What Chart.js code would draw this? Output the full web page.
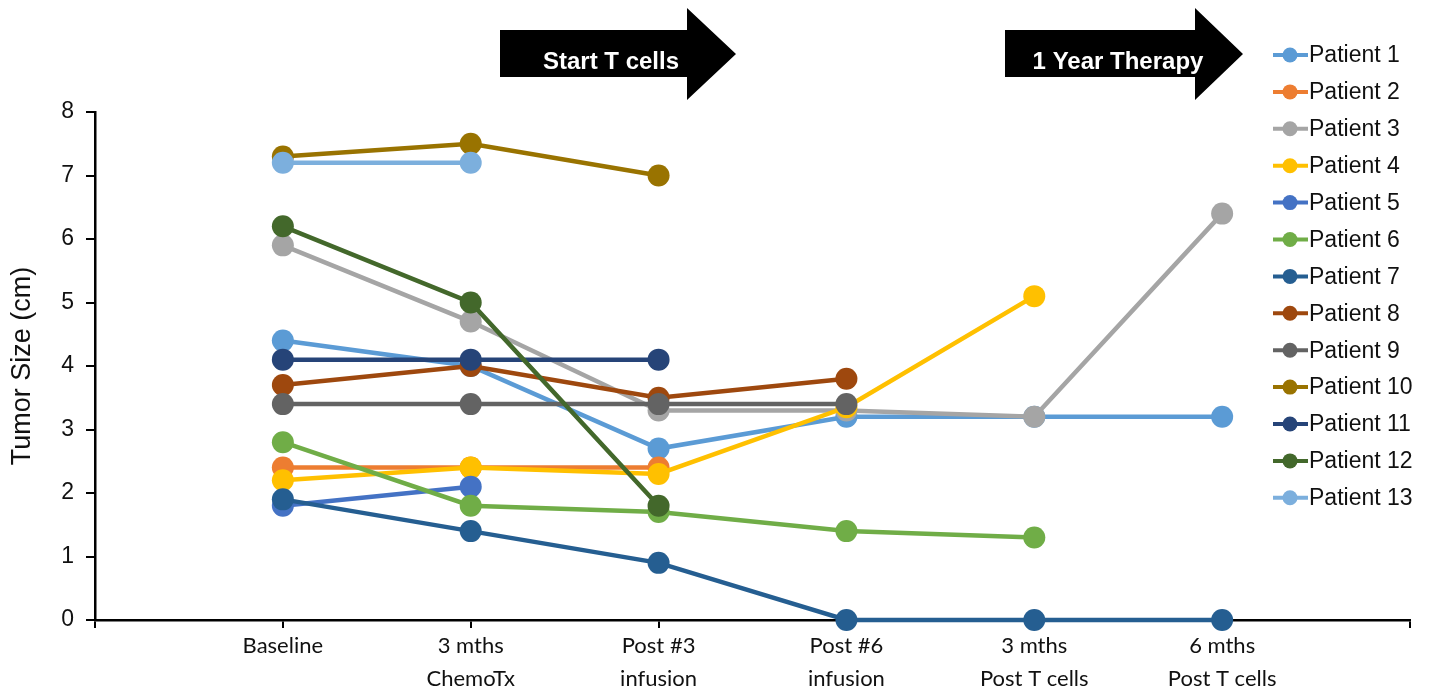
<!DOCTYPE html>
<html>
<head>
<meta charset="utf-8">
<script src="https://cdn.jsdelivr.net/npm/chart.js@4.4.1/dist/chart.umd.min.js"></script>
<style>
  html, body { margin: 0; padding: 0; background: #fff; }
  #wrap { width: 1442px; height: 695px; position: relative; }
</style>
</head>
<body>
<div id="wrap"><canvas id="tumorChart"></canvas></div>
<script>
// time points on the x axis (multi-line labels)
const timePoints = [
  ["Baseline"],
  ["3 mths", "ChemoTx"],
  ["Post #3", "infusion"],
  ["Post #6", "infusion"],
  ["3 mths", "Post T cells"],
  ["6 mths", "Post T cells"],
];

const patientNames = [
  "Patient 1", "Patient 2", "Patient 3", "Patient 4", "Patient 5",
  "Patient 6", "Patient 7", "Patient 8", "Patient 9", "Patient 10",
  "Patient 11", "Patient 12", "Patient 13",
];

const patientColors = [
  "#5B9BD5", "#ED7D31", "#A5A5A5", "#FFC000", "#4472C4",
  "#70AD47", "#255E91", "#9E480E", "#636363", "#997300",
  "#264478", "#43682B", "#7CAFDD",
];

// tumor size (cm) per time point
const patient1 = [4.4, 4.0, 2.7, 3.2, 3.2, 3.2];
const patient2 = [2.4, 2.4, 2.4];
const patient3 = [5.9, 4.7, 3.3, 3.3, 3.2, 6.4];
const patient4 = [2.2, 2.4, 2.3, 3.35, 5.1];
const patient5 = [1.8, 2.1];
const patient6 = [2.8, 1.8, 1.7, 1.4, 1.3];
const patient7 = [1.9, 1.4, 0.9, 0, 0, 0];
const patient8 = [3.7, 4.0, 3.5, 3.8];
const patient9 = [3.4, 3.4, 3.4, 3.4];
const patient10 = [7.3, 7.5, 7.0];
const patient11 = [4.1, 4.1, 4.1];
const patient12 = [6.2, 5.0, 1.8];
const patient13 = [7.2, 7.2];

const patientValues = [
  patient1, patient2, patient3, patient4, patient5, patient6, patient7,
  patient8, patient9, patient10, patient11, patient12, patient13,
];

const arrowLabels = ["Start T cells", "1 Year Therapy"];

// arrows above the plot + legend drawn like the Excel one (line with marker)
const overlayPlugin = {
  id: "overlay",
  afterDraw(chart) {
    const ctx = chart.ctx;
    ctx.save();

    const arrows = [
      { x0: 500, head: 687, tip: 736, text: arrowLabels[0], cx: 611 },
      { x0: 1005, head: 1195, tip: 1243, text: arrowLabels[1], cx: 1118 },
    ];
    arrows.forEach((a) => {
      ctx.fillStyle = "#000";
      ctx.beginPath();
      ctx.moveTo(a.x0, 30);
      ctx.lineTo(a.head, 30);
      ctx.lineTo(a.head, 8);
      ctx.lineTo(a.tip, 54);
      ctx.lineTo(a.head, 100);
      ctx.lineTo(a.head, 77);
      ctx.lineTo(a.x0, 77);
      ctx.closePath();
      ctx.fill();
      ctx.fillStyle = "#fff";
      ctx.font = "bold 24px 'Liberation Sans', Arial, sans-serif";
      ctx.textAlign = "center";
      ctx.textBaseline = "alphabetic";
      ctx.fillText(a.text, a.cx, 69);
    });

    // legend
    chart.data.datasets.forEach((ds, i) => {
      const y = 55 + i * 36.9;
      ctx.strokeStyle = ds.borderColor;
      ctx.lineWidth = 4;
      ctx.beginPath();
      ctx.moveTo(1273, y);
      ctx.lineTo(1308, y);
      ctx.stroke();
      ctx.fillStyle = ds.backgroundColor;
      ctx.beginPath();
      ctx.arc(1290, y, 7.5, 0, Math.PI * 2);
      ctx.fill();
      ctx.fillStyle = "#111";
      ctx.font = "23px 'Liberation Sans', Arial, sans-serif";
      ctx.textAlign = "left";
      ctx.textBaseline = "middle";
      ctx.fillText(ds.label, 1309, y + 1);
    });

    ctx.restore();
  },
};

const datasets = patientValues.map((values, i) => ({
  label: patientNames[i],
  data: values.map((v, j) => ({ x: j + 1, y: v })),
  borderColor: patientColors[i],
  backgroundColor: patientColors[i],
  pointBackgroundColor: patientColors[i],
  pointBorderWidth: 0,
  pointRadius: 11,
  pointHoverRadius: 11,
  borderWidth: 4.5,
  tension: 0,
  clip: false,
  order: -i, // later patients on top, like Excel
}));

const ctx = document.getElementById("tumorChart").getContext("2d");

new Chart(ctx, {
  type: "line",
  data: { datasets: datasets },
  options: {
    responsive: true,
    maintainAspectRatio: false,
    animation: false,
    layout: {
      padding: { top: 112, right: 32, left: 0, bottom: 0 },
    },
    plugins: {
      legend: { display: false },
      tooltip: { enabled: false },
    },
    scales: {
      x: {
        type: "linear",
        min: 0,
        max: 7,
        afterFit: (scale) => {
          scale.height = 75;
        },
        afterBuildTicks: (scale) => {
          scale.ticks = [0, 1, 2, 3, 4, 5, 6, 7].map((v) => ({ value: v }));
        },
        ticks: {
          autoSkip: false,
          maxRotation: 0,
          padding: 1,
          color: "#111",
          font: { family: "Lato, 'Open Sans', sans-serif", size: 22, lineHeight: 1.5 },
          callback: (value) => timePoints[value - 1] || "",
        },
        grid: {
          drawOnChartArea: false,
          drawTicks: true,
          tickLength: 8,
          color: "#000",
          lineWidth: 2,
        },
        border: { display: true, color: "#000", width: 2.5 },
      },
      y: {
        min: 0,
        max: 8,
        afterFit: (scale) => {
          scale.width = 95;
        },
        ticks: {
          stepSize: 1,
          padding: 12,
          color: "#111",
          font: { family: "'Liberation Sans', Arial, sans-serif", size: 23 },
        },
        grid: {
          drawOnChartArea: false,
          drawTicks: true,
          tickLength: 9,
          color: "#000",
          lineWidth: 2,
        },
        border: { display: true, color: "#000", width: 2.5 },
        title: {
          display: true,
          text: "Tumor Size (cm)",
          color: "#111",
          padding: { top: 6, bottom: 0 },
          font: { family: "'Liberation Sans', Arial, sans-serif", size: 27 },
        },
      },
    },
  },
  plugins: [overlayPlugin],
});
</script>
</body>
</html>
